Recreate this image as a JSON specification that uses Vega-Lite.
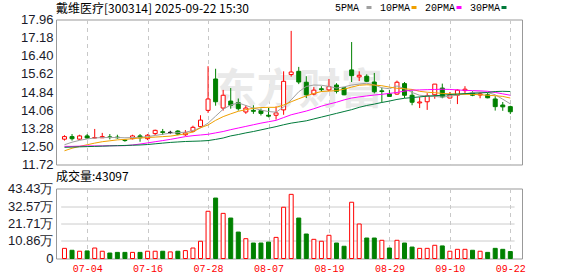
{
"$schema": "https://vega.github.io/schema/vega-lite/v6.json",
"background": "white",
"padding": {"left": 0, "top": 2.5, "right": 4, "bottom": 0},
"config": {
  "view": {"stroke": "#999999", "strokeWidth": 1},
  "axis": {"labelFont": "Liberation Sans", "labelFontSize": 13, "labelColor": "#1a1a2a", "ticks": false, "domain": false, "gridColor": "#cccccc", "gridWidth": 1, "title": null, "labelOverlap": false}
},
"datasets": {"k": [
{"d":"07-01","o":12.81,"h":12.98,"l":12.75,"c":12.92,"v":6.3,"k":"up","vk":"up","5PMA":12.57,"10PMA":12.31,"20PMA":12.50,"30PMA":12.46},
{"d":"07-02","o":12.92,"h":13.03,"l":12.75,"c":12.83,"v":5.1,"k":"down","vk":"down","5PMA":12.68,"10PMA":12.42,"20PMA":12.50,"30PMA":12.47},
{"d":"07-03","o":12.81,"h":13.00,"l":12.78,"c":12.95,"v":4.5,"k":"up","vk":"up","5PMA":12.76,"10PMA":12.50,"20PMA":12.51,"30PMA":12.48},
{"d":"07-04","o":12.95,"h":13.03,"l":12.82,"c":12.86,"v":4.7,"k":"down","vk":"down","5PMA":12.82,"10PMA":12.57,"20PMA":12.52,"30PMA":12.49},
{"d":"07-07","o":12.86,"h":13.25,"l":12.85,"c":12.88,"v":6.5,"k":"up","vk":"up","5PMA":12.86,"10PMA":12.64,"20PMA":12.52,"30PMA":12.50},
{"d":"07-08","o":12.87,"h":13.08,"l":12.86,"c":12.92,"v":4.5,"k":"up","vk":"up","5PMA":12.88,"10PMA":12.70,"20PMA":12.52,"30PMA":12.51},
{"d":"07-09","o":12.91,"h":13.03,"l":12.80,"c":12.88,"v":3.4,"k":"down","vk":"down","5PMA":12.88,"10PMA":12.74,"20PMA":12.53,"30PMA":12.52},
{"d":"07-10","o":12.90,"h":13.00,"l":12.83,"c":12.87,"v":3.8,"k":"down","vk":"down","5PMA":12.88,"10PMA":12.78,"20PMA":12.53,"30PMA":12.53},
{"d":"07-11","o":12.77,"h":12.80,"l":12.70,"c":12.75,"v":3.8,"k":"down","vk":"down","5PMA":12.87,"10PMA":12.80,"20PMA":12.53,"30PMA":12.54},
{"d":"07-14","o":12.83,"h":13.00,"l":12.80,"c":12.95,"v":3.8,"k":"up","vk":"up","5PMA":12.88,"10PMA":12.83,"20PMA":12.56,"30PMA":12.55},
{"d":"07-15","o":12.95,"h":13.03,"l":12.70,"c":12.87,"v":3.8,"k":"down","vk":"down","5PMA":12.89,"10PMA":12.86,"20PMA":12.60,"30PMA":12.56},
{"d":"07-16","o":12.83,"h":13.03,"l":12.77,"c":12.98,"v":4.5,"k":"up","vk":"up","5PMA":12.92,"10PMA":12.88,"20PMA":12.65,"30PMA":12.58},
{"d":"07-17","o":13.05,"h":13.22,"l":12.99,"c":13.19,"v":4.5,"k":"up","vk":"up","5PMA":12.97,"10PMA":12.90,"20PMA":12.70,"30PMA":12.61},
{"d":"07-18","o":13.13,"h":13.25,"l":12.99,"c":13.10,"v":4.5,"k":"down","vk":"down","5PMA":13.02,"10PMA":12.92,"20PMA":12.75,"30PMA":12.64},
{"d":"07-21","o":13.10,"h":13.17,"l":13.03,"c":13.10,"v":4.1,"k":"flat","vk":"up","5PMA":13.07,"10PMA":12.94,"20PMA":12.80,"30PMA":12.67},
{"d":"07-22","o":13.16,"h":13.20,"l":12.98,"c":13.03,"v":4.5,"k":"down","vk":"down","5PMA":13.09,"10PMA":12.99,"20PMA":12.86,"30PMA":12.69},
{"d":"07-23","o":13.00,"h":13.20,"l":12.95,"c":13.08,"v":4.9,"k":"up","vk":"up","5PMA":13.11,"10PMA":13.04,"20PMA":12.92,"30PMA":12.71},
{"d":"07-24","o":13.15,"h":13.39,"l":13.10,"c":13.32,"v":6.5,"k":"up","vk":"up","5PMA":13.18,"10PMA":13.12,"20PMA":12.96,"30PMA":12.72},
{"d":"07-25","o":13.35,"h":13.84,"l":13.30,"c":13.63,"v":10.7,"k":"up","vk":"up","5PMA":13.30,"10PMA":13.30,"20PMA":12.99,"30PMA":12.73},
{"d":"07-28","o":14.05,"h":15.95,"l":13.94,"c":14.54,"v":29.3,"k":"up","vk":"up","5PMA":13.50,"10PMA":13.42,"20PMA":13.02,"30PMA":12.75},
{"d":"07-29","o":15.40,"h":15.84,"l":14.25,"c":14.42,"v":37.5,"k":"down","vk":"down","5PMA":13.80,"10PMA":13.62,"20PMA":13.08,"30PMA":12.80},
{"d":"07-30","o":14.15,"h":14.93,"l":14.04,"c":14.70,"v":28.0,"k":"up","vk":"up","5PMA":14.10,"10PMA":13.78,"20PMA":13.14,"30PMA":12.86},
{"d":"07-31","o":14.45,"h":15.01,"l":14.12,"c":14.27,"v":25.1,"k":"down","vk":"down","5PMA":14.28,"10PMA":13.90,"20PMA":13.22,"30PMA":12.95},
{"d":"08-01","o":14.38,"h":14.56,"l":14.04,"c":14.12,"v":16.4,"k":"down","vk":"down","5PMA":14.37,"10PMA":14.01,"20PMA":13.29,"30PMA":13.01},
{"d":"08-04","o":13.98,"h":14.27,"l":13.90,"c":14.15,"v":12.3,"k":"up","vk":"up","5PMA":14.26,"10PMA":14.08,"20PMA":13.36,"30PMA":13.08},
{"d":"08-05","o":14.05,"h":14.27,"l":13.90,"c":14.01,"v":9.6,"k":"down","vk":"down","5PMA":14.15,"10PMA":14.14,"20PMA":13.43,"30PMA":13.14},
{"d":"08-06","o":14.04,"h":14.13,"l":13.83,"c":13.92,"v":9.6,"k":"down","vk":"down","5PMA":14.06,"10PMA":14.17,"20PMA":13.50,"30PMA":13.21},
{"d":"08-07","o":13.84,"h":14.16,"l":13.75,"c":13.80,"v":10.2,"k":"down","vk":"down","5PMA":14.00,"10PMA":14.18,"20PMA":13.56,"30PMA":13.28},
{"d":"08-08","o":13.84,"h":14.22,"l":13.65,"c":13.94,"v":13.1,"k":"up","vk":"up","5PMA":13.97,"10PMA":14.18,"20PMA":13.62,"30PMA":13.35},
{"d":"08-11","o":14.07,"h":15.73,"l":13.86,"c":15.30,"v":31.8,"k":"up","vk":"up","5PMA":14.20,"10PMA":14.28,"20PMA":13.74,"30PMA":13.43},
{"d":"08-12","o":15.59,"h":17.47,"l":15.50,"c":15.70,"v":39.8,"k":"up","vk":"up","5PMA":14.50,"10PMA":14.42,"20PMA":13.86,"30PMA":13.50},
{"d":"08-13","o":15.73,"h":15.92,"l":15.18,"c":15.27,"v":25.1,"k":"down","vk":"down","5PMA":14.85,"10PMA":14.55,"20PMA":13.94,"30PMA":13.55},
{"d":"08-14","o":15.26,"h":15.52,"l":14.58,"c":14.72,"v":15.2,"k":"down","vk":"down","5PMA":15.08,"10PMA":14.67,"20PMA":14.02,"30PMA":13.60},
{"d":"08-15","o":14.75,"h":15.05,"l":14.70,"c":14.92,"v":11.9,"k":"up","vk":"up","5PMA":15.14,"10PMA":14.78,"20PMA":14.12,"30PMA":13.68},
{"d":"08-18","o":14.98,"h":15.09,"l":14.85,"c":14.94,"v":10.7,"k":"down","vk":"up","5PMA":15.13,"10PMA":14.86,"20PMA":14.23,"30PMA":13.76},
{"d":"08-19","o":14.93,"h":15.40,"l":14.87,"c":15.07,"v":14.4,"k":"up","vk":"up","5PMA":15.08,"10PMA":14.88,"20PMA":14.32,"30PMA":13.84},
{"d":"08-20","o":15.14,"h":15.22,"l":14.78,"c":14.87,"v":9.6,"k":"down","vk":"down","5PMA":15.01,"10PMA":14.90,"20PMA":14.40,"30PMA":13.92},
{"d":"08-21","o":15.02,"h":15.05,"l":14.70,"c":14.72,"v":7.6,"k":"down","vk":"down","5PMA":15.06,"10PMA":14.96,"20PMA":14.50,"30PMA":14.00},
{"d":"08-22","o":15.79,"h":16.99,"l":15.27,"c":15.54,"v":34.9,"k":"down","vk":"up","5PMA":15.14,"10PMA":15.05,"20PMA":14.58,"30PMA":14.08},
{"d":"08-25","o":15.49,"h":15.73,"l":15.31,"c":15.56,"v":21.4,"k":"up","vk":"up","5PMA":15.18,"10PMA":15.13,"20PMA":14.63,"30PMA":14.18},
{"d":"08-26","o":15.52,"h":15.60,"l":15.27,"c":15.30,"v":12.7,"k":"down","vk":"down","5PMA":15.22,"10PMA":15.15,"20PMA":14.67,"30PMA":14.26},
{"d":"08-27","o":15.27,"h":15.66,"l":14.78,"c":14.85,"v":12.7,"k":"down","vk":"down","5PMA":15.14,"10PMA":15.14,"20PMA":14.71,"30PMA":14.32},
{"d":"08-28","o":14.89,"h":15.03,"l":14.40,"c":14.86,"v":11.3,"k":"down","vk":"up","5PMA":15.02,"10PMA":15.11,"20PMA":14.74,"30PMA":14.39},
{"d":"08-29","o":14.76,"h":14.93,"l":14.65,"c":14.65,"v":6.5,"k":"down","vk":"down","5PMA":14.98,"10PMA":15.05,"20PMA":14.78,"30PMA":14.45},
{"d":"09-01","o":14.75,"h":15.33,"l":14.72,"c":15.26,"v":11.3,"k":"up","vk":"up","5PMA":15.10,"10PMA":15.00,"20PMA":14.82,"30PMA":14.52},
{"d":"09-02","o":15.20,"h":15.27,"l":14.58,"c":14.70,"v":9.6,"k":"down","vk":"down","5PMA":14.98,"10PMA":14.98,"20PMA":14.88,"30PMA":14.57},
{"d":"09-03","o":14.70,"h":14.90,"l":14.27,"c":14.40,"v":7.1,"k":"down","vk":"down","5PMA":14.82,"10PMA":14.95,"20PMA":14.92,"30PMA":14.60},
{"d":"09-04","o":14.37,"h":14.62,"l":14.15,"c":14.41,"v":6.3,"k":"up","vk":"up","5PMA":14.70,"10PMA":14.87,"20PMA":14.93,"30PMA":14.63},
{"d":"09-05","o":14.42,"h":14.79,"l":14.07,"c":14.68,"v":6.3,"k":"up","vk":"up","5PMA":14.67,"10PMA":14.83,"20PMA":14.94,"30PMA":14.66},
{"d":"09-08","o":14.72,"h":15.18,"l":14.55,"c":15.18,"v":8.2,"k":"up","vk":"up","5PMA":14.65,"10PMA":14.81,"20PMA":14.95,"30PMA":14.68},
{"d":"09-09","o":15.01,"h":15.20,"l":14.57,"c":14.63,"v":7.8,"k":"down","vk":"down","5PMA":14.62,"10PMA":14.78,"20PMA":14.96,"30PMA":14.70},
{"d":"09-10","o":14.58,"h":14.84,"l":14.57,"c":14.71,"v":4.5,"k":"up","vk":"up","5PMA":14.66,"10PMA":14.76,"20PMA":14.95,"30PMA":14.73},
{"d":"09-11","o":14.70,"h":14.95,"l":14.32,"c":14.92,"v":5.7,"k":"up","vk":"up","5PMA":14.71,"10PMA":14.75,"20PMA":14.93,"30PMA":14.75},
{"d":"09-12","o":14.90,"h":15.09,"l":14.79,"c":14.96,"v":5.7,"k":"up","vk":"up","5PMA":14.76,"10PMA":14.74,"20PMA":14.91,"30PMA":14.77},
{"d":"09-15","o":14.80,"h":14.87,"l":14.66,"c":14.70,"v":5.1,"k":"down","vk":"down","5PMA":14.82,"10PMA":14.74,"20PMA":14.90,"30PMA":14.78},
{"d":"09-16","o":14.71,"h":14.83,"l":14.57,"c":14.76,"v":4.5,"k":"up","vk":"up","5PMA":14.84,"10PMA":14.72,"20PMA":14.89,"30PMA":14.80},
{"d":"09-17","o":14.72,"h":14.80,"l":14.57,"c":14.59,"v":3.8,"k":"down","vk":"down","5PMA":14.82,"10PMA":14.70,"20PMA":14.87,"30PMA":14.82},
{"d":"09-18","o":14.54,"h":14.66,"l":14.04,"c":14.21,"v":6.3,"k":"down","vk":"down","5PMA":14.72,"10PMA":14.68,"20PMA":14.82,"30PMA":14.86},
{"d":"09-19","o":14.28,"h":14.41,"l":14.03,"c":14.20,"v":5.7,"k":"down","vk":"down","5PMA":14.53,"10PMA":14.65,"20PMA":14.76,"30PMA":14.87},
{"d":"09-22","o":14.21,"h":14.25,"l":13.89,"c":13.99,"v":4.31,"k":"down","vk":"down","5PMA":14.33,"10PMA":14.58,"20PMA":14.70,"30PMA":14.86}
]},
"spacing": -3,
"vconcat": [
{
  "width": 466, "height": 145,
  "data": {"name": "k"},
  "title": {"text": "戴维医疗[300314] 2025-09-22 15:30", "anchor": "start", "frame": "group", "font": "Noto Sans CJK SC", "fontSize": 12, "fontWeight": "normal", "color": "#000000", "offset": -2.5},
  "encoding": {
    "x": {"field": "d", "type": "ordinal", "scale": {"type": "point", "range": [4.7, 458.1]},
          "axis": {"values": ["07-04","07-16","07-28","08-07","08-19","08-29","09-10","09-22"], "labels": false, "grid": true, "gridDash": [4,4], "gridColor": "#c8c8c8", "minExtent": 0, "maxExtent": 0}}
  },
  "layer": [
    {"data": {"values": [{}]},
     "mark": {"type": "text", "text": "东方财富", "font": "Noto Sans CJK SC", "fontSize": 42, "fontWeight": "bold", "color": "#e9e9e9"},
     "encoding": {"x": {"datum": "08-13", "type": "ordinal"}, "y": {"datum": 14.9, "type": "quantitative"}}},
    {"mark": {"type": "rule", "strokeWidth": 1},
     "encoding": {
       "y": {"field": "l", "type": "quantitative", "scale": {"domain": [11.72, 17.96], "nice": false, "zero": false},
             "axis": {"values": [11.72, 12.5, 13.28, 14.06, 14.84, 15.62, 16.4, 17.18, 17.96], "tickCount": 20, "format": ".2f", "labelPadding": 3, "labelOverlap": false, "minExtent": 55, "maxExtent": 55}},
       "y2": {"field": "h"},
       "stroke": {"field": "k", "type": "nominal", "scale": {"domain": ["up","down","flat"], "range": ["#ff0000","#008000","#000000"]}, "legend": null}}},
    {"mark": {"type": "bar", "size": 4, "strokeWidth": 1},
     "encoding": {
       "y": {"field": "o", "type": "quantitative"},
       "y2": {"field": "c"},
       "fill": {"field": "k", "type": "nominal", "scale": {"domain": ["up","down","flat"], "range": ["#ffffff","#008000","#000000"]}, "legend": null},
       "stroke": {"field": "k", "type": "nominal", "legend": null}}},
    {"transform": [{"fold": ["5PMA","10PMA","20PMA","30PMA"], "as": ["ma","val"]}],
     "mark": {"type": "line", "strokeWidth": 1},
     "encoding": {
       "y": {"field": "val", "type": "quantitative"},
       "color": {"field": "ma", "type": "nominal",
         "scale": {"domain": ["5PMA","10PMA","20PMA","30PMA"], "range": ["#a0a0a0","#f0a000","#ff00ff","#007a3a"]},
         "legend": {"orient": "none", "legendX": 277, "legendY": -17, "direction": "horizontal", "columns": 4, "title": null,
           "labelExpr": "datum.label == '5PMA' ? '\u00a05PMA' : datum.label",
           "symbolType": "stroke", "symbolSize": 25, "symbolStrokeWidth": 3, "symbolOffset": 31, "labelFont": "Liberation Mono", "labelFontSize": 10,
           "labelColor": "#000000", "labelAlign": "left", "labelOffset": -39, "columnPadding": 0, "padding": 0}}}}
  ]
},
{
  "width": 466, "height": 70,
  "data": {"name": "k"},
  "title": {"text": "成交量:43097", "anchor": "start", "frame": "group", "font": "Noto Sans CJK SC", "fontSize": 12, "fontWeight": "normal", "color": "#000000", "offset": -1},
  "mark": {"type": "bar", "size": 4, "strokeWidth": 1},
  "encoding": {
    "x": {"field": "d", "type": "ordinal", "scale": {"type": "point", "range": [4.7, 458.1]},
          "axis": {"values": ["07-04","07-16","07-28","08-07","08-19","08-29","09-10","09-22"], "labelColor": "#ff0000", "labelFont": "Liberation Mono", "labelFontSize": 10, "labelPadding": 5, "labelAngle": 0, "grid": true, "gridDash": [4,4], "gridColor": "#c8c8c8"}},
    "y": {"field": "v", "type": "quantitative", "scale": {"domain": [0, 43.43], "nice": false},
          "axis": {"values": [0, 10.86, 21.71, 32.57, 43.43], "tickCount": 20, "labelExpr": "datum.value == 0 ? '0' : format(datum.value, '.2f') + '万'", "labelPadding": 3, "minExtent": 55, "maxExtent": 55}},
    "fill": {"field": "vk", "type": "nominal", "scale": {"domain": ["up","down"], "range": ["#ffffff","#008000"]}, "legend": null},
    "stroke": {"field": "vk", "type": "nominal", "scale": {"domain": ["up","down"], "range": ["#ff0000","#008000"]}, "legend": null}
  }
}
]
}
